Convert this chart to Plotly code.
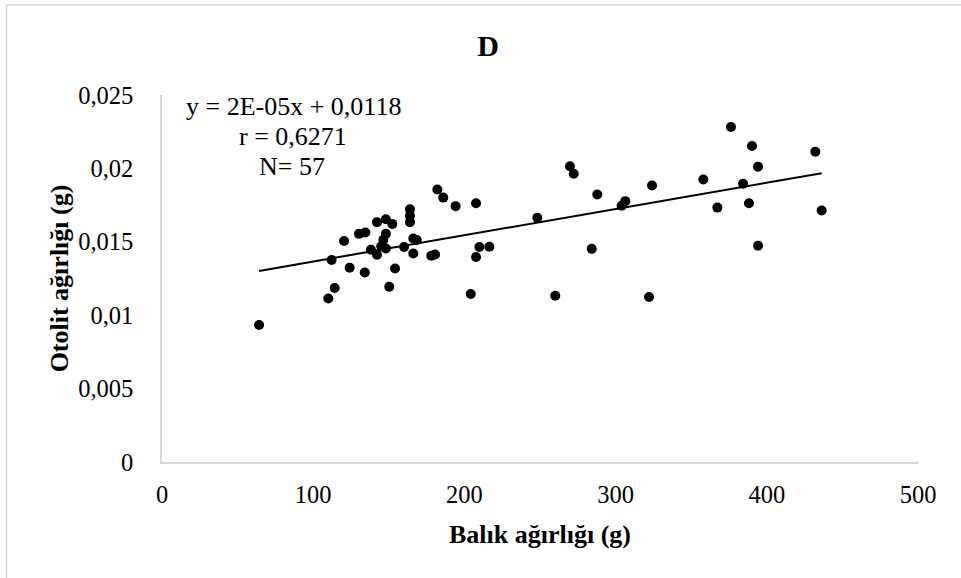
import numpy as np
import plotly.graph_objects as go

# Data
balik_agirligi = [64.2, 110.0, 114.2, 112.2, 120.4, 124.1, 134.1, 130.3, 134.5, 138.2,
                  142.2, 142.2, 148.1, 152.3, 148.1, 146.4, 148.1, 154.1, 150.3, 160.1,
                  164.0, 164.0, 164.0, 166.2, 168.5, 166.2, 178.1, 180.6, 182.1, 186.0,
                  194.2, 207.7, 209.9, 207.7, 204.2, 216.5, 248.2, 269.8, 272.3, 287.9,
                  284.2, 260.1, 304.0, 306.4, 324.1, 322.1, 358.0, 367.3, 376.3, 390.2,
                  394.2, 384.3, 388.2, 394.2, 432.1, 436.3, 145.0]
otolit_agirligi = [0.00933, 0.01114, 0.01185, 0.01376, 0.01505, 0.01323, 0.01291, 0.01554, 0.01563, 0.01446,
                   0.01412, 0.01634, 0.01654, 0.01622, 0.01554, 0.01514, 0.01454, 0.01318, 0.01194, 0.01464,
                   0.01722, 0.01677, 0.01634, 0.01522, 0.01512, 0.01420, 0.01405, 0.01414, 0.01856, 0.01801,
                   0.01743, 0.01763, 0.01464, 0.01396, 0.01144, 0.01466, 0.01663, 0.02015, 0.01963, 0.01822,
                   0.01452, 0.01133, 0.01745, 0.01777, 0.01883, 0.01124, 0.01924, 0.01733, 0.02282, 0.02153,
                   0.02012, 0.01895, 0.01763, 0.01473, 0.02114, 0.01713, 0.01470]

x_ticks = [0, 100, 200, 300, 400, 500]
y_ticks = [0, 0.005, 0.01, 0.015, 0.02, 0.025]
y_tick_labels = ["0", "0,005", "0,01", "0,015", "0,02", "0,025"]

eq_lines = ["y = 2E-05x + 0,0118", "r = 0,6271", "N= 57"]

FONT = "Liberation Serif, Times New Roman, serif"

xa = np.array(balik_agirligi)
ya = np.array(otolit_agirligi)
slope, intercept = np.polyfit(xa, ya, 1)
xl = np.array([xa.min(), xa.max()])
yl = slope * xl + intercept

fig = go.Figure()
fig.add_trace(go.Scatter(x=balik_agirligi, y=otolit_agirligi, mode="markers",
                         marker=dict(color="black", size=10), showlegend=False))
fig.add_trace(go.Scatter(x=xl, y=yl, mode="lines",
                         line=dict(color="black", width=2), showlegend=False))

fig.update_layout(
    width=961, height=578,
    margin=dict(l=162, r=43, t=95, b=115.5),
    paper_bgcolor="white", plot_bgcolor="white",
    font=dict(family=FONT, color="black", size=24),
    title=dict(text="<b>D</b>", x=488 / 961, xanchor="center",
               y=1 - 45 / 578, yanchor="middle", font=dict(size=30, family=FONT)),
    xaxis=dict(range=[0, 500], tickvals=x_ticks, showgrid=False, zeroline=False,
               showline=True, linecolor="#d9d9d9", linewidth=1.5,
               ticks="outside", ticklen=10, tickcolor="rgba(0,0,0,0)",
               tickfont=dict(size=24.5, family=FONT),
               title=dict(text="<b>Balık ağırlığı (g)</b>", font=dict(size=26, family=FONT), standoff=18)),
    yaxis=dict(range=[0, 0.025], tickvals=y_ticks, ticktext=y_tick_labels, showgrid=False,
               zeroline=False, showline=True, linecolor="#d9d9d9", linewidth=1.5,
               ticks="outside", ticklen=22, tickcolor="rgba(0,0,0,0)",
               tickfont=dict(size=24.5, family=FONT),
               title=dict(text="<b>Otolit ağırlığı (g)</b>", font=dict(size=26, family=FONT), standoff=2)),
)

ann_pos = [(293, 107), (293, 137), (292, 167)]
for txt, (px, py) in zip(eq_lines, ann_pos):
    fig.add_annotation(text=txt, xref="paper", yref="paper",
                       x=(px - 162) / 756, y=(462.5 - py) / 367.5,
                       xanchor="center", yanchor="middle", showarrow=False,
                       font=dict(size=26, family=FONT, color="black"))

fig.add_shape(type="rect", xref="paper", yref="paper",
              x0=(6.5 - 162) / 756, x1=(1000 - 162) / 756,
              y0=(462.5 - 620) / 367.5, y1=(462.5 - 5) / 367.5,
              line=dict(color="#d9d9d9", width=1.5), fillcolor="rgba(0,0,0,0)", layer="below")

fig.write_html("out.html")
